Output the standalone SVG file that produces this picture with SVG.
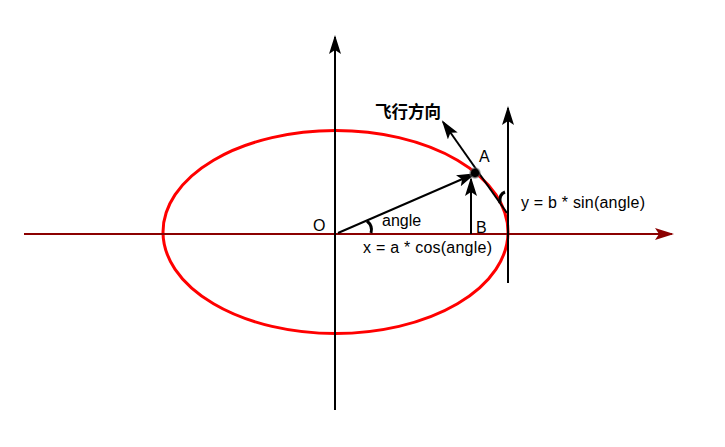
<svg xmlns="http://www.w3.org/2000/svg" width="725" height="447" viewBox="0 0 725 447">
<defs>
<style>
.ln{stroke:#000;stroke-width:2;fill:none}
.t{font-family:"Liberation Sans",Arial,sans-serif;font-size:16px;fill:#000}
.cn{font-family:"Noto Sans CJK SC",sans-serif;font-size:16.5px;font-weight:bold;fill:#000}
</style>
<marker id="ab" markerWidth="20" markerHeight="14" refX="17" refY="6" orient="auto" markerUnits="userSpaceOnUse">
<path d="M0,0 L19,6 L0,12 L4,6 Z" fill="#000"/>
</marker>
<marker id="ar" markerWidth="20" markerHeight="14" refX="17" refY="6" orient="auto" markerUnits="userSpaceOnUse">
<path d="M0,0 L19,6 L0,12 L4,6 Z" fill="#8b0000"/>
</marker>
<radialGradient id="dot">
<stop offset="0.6" stop-color="#000"/>
<stop offset="1" stop-color="#888" stop-opacity="0.3"/>
</radialGradient>
</defs>
<rect width="725" height="447" fill="#fff"/>
<g id="ellipse"><ellipse cx="335.5" cy="232" rx="172.5" ry="101.5" fill="none" stroke="#f00" stroke-width="3"/></g>
<g id="connectors">
<line x1="24" y1="234" x2="672" y2="234" stroke="#8b0000" stroke-width="2" marker-end="url(#ar)"/>
<line x1="335" y1="410" x2="335" y2="37" class="ln" marker-end="url(#ab)"/>
<line x1="508" y1="283" x2="508" y2="108" class="ln" marker-end="url(#ab)"/>
<line x1="338" y1="233" x2="474" y2="174" class="ln" marker-end="url(#ab)"/>
<line x1="471" y1="234" x2="471" y2="179" class="ln" marker-end="url(#ab)"/>
<line x1="507" y1="213" x2="443" y2="122" class="ln" marker-end="url(#ab)"/>
<path d="M367,221 Q373,226 371,233" stroke="#000" stroke-width="3" fill="none"/>
<path d="M500,203 Q499,194 505,192" stroke="#000" stroke-width="3" fill="none"/>
</g>
<g id="pointA"><circle cx="475" cy="173" r="6" fill="url(#dot)"/></g>
<g id="labels">
<text class="cn" x="375" y="118">飞行方向</text>
<text class="t" x="479" y="162">A</text>
<text class="t" x="476" y="233">B</text>
<text class="t" x="313" y="231">O</text>
<text class="t" x="382" y="226">angle</text>
<text class="t" x="363" y="253" textLength="129">x = a * cos(angle)</text>
<text class="t" x="521" y="208" textLength="124">y = b * sin(angle)</text>
</g>
</svg>
